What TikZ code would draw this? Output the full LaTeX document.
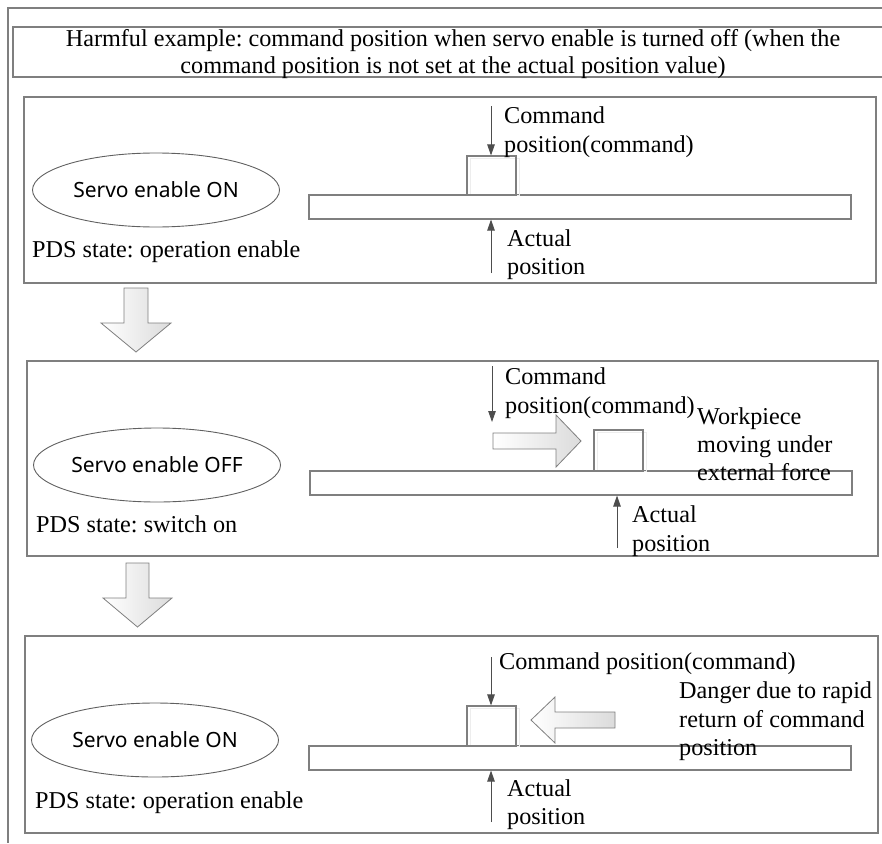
\documentclass[tikz,border=0pt]{standalone}
\usepackage{fontspec}
\setmainfont{Liberation Serif}
\newfontfamily\elfont{Noto Sans}
\usetikzlibrary{arrows.meta,fit,shapes.geometric}
\definecolor{boxgray}{HTML}{7F7F7F}
\definecolor{ellgray}{HTML}{606060}
\definecolor{arrgray}{HTML}{4D4D4D}
\frenchspacing
\tikzset{
  frameline/.style={draw=boxgray,line width=1.1pt},
  rectbox/.style={draw=boxgray,line width=1.1pt,inner sep=0pt},
  ghostbox/.style={draw=gray!14,line width=0.9pt},
  stateell/.style={draw=ellgray,line width=0.9pt,ellipse,minimum width=247pt,minimum height=74pt,inner sep=0pt,font=\elfont\fontsize{21}{25}\selectfont},
  lbl/.style={anchor=base west,inner sep=0pt,font=\fontsize{24.2}{29}\selectfont},
  ttl/.style={anchor=base,inner sep=0pt,font=\fontsize{24.2}{29}\selectfont},
  thinarrow/.style={draw=arrgray,line width=0.9pt,-{Triangle[length=11pt,width=7.5pt]}},
  fatarrow/.style={draw=boxgray,line width=0.8pt,left color=white,right color=gray!28},
}
\begin{document}
\begin{tikzpicture}[x=1pt,y=-1pt]
\useasboundingbox (0,0) rectangle (882,843);
% outer frame
\draw[frameline] (882,8) -- (8,8) -- (8,843);
% title box
\draw[frameline] (882,27) -- (13,27) -- (13,77) -- (882,77);
\node[ttl] (t1) at (453,46) {Harmful example: command position when servo enable is turned off (when the};
\node[ttl] (t2) at (453,73.5) {command position is not set at the actual position value)};

% ---------- panel 1
\node[rectbox,fit={(24,97) (876,283)}] (p1) {};
\node[stateell] (e1) at (156,190) {Servo enable ON};
\node[lbl] (s1) at (32,257) {PDS state: operation enable};
\node[rectbox,fit={(309,195) (851,219)}] (bar1) {};
\draw[ghostbox] (470,158) rectangle (519,195);
\node[rectbox,fit={(467,156) (516,195)}] (blk1) {};
\coordinate (c1) at (491,106);
\draw[thinarrow] (c1) -- (c1 |- blk1.north);
\node[lbl] (cl1a) at (504,123) {Command};
\node[lbl] (cl1b) at (504,152) {position(command)};
\coordinate (a1) at (491,273);
\draw[thinarrow] (a1) -- (a1 |- bar1.south);
\node[lbl] (al1a) at (507,246) {Actual};
\node[lbl] (al1b) at (507,274) {position};

% down arrow 1
\shade[fatarrow] (124,288) -- (148,288) -- (148,323) -- (171,323) -- (136,352) -- (101,323) -- (124,323) -- cycle;

% ---------- panel 2
\node[rectbox,fit={(27,361) (878,556)}] (p2) {};
\node[stateell] (e2) at (157,465) {Servo enable OFF};
\node[lbl] (s2) at (36,532) {PDS state: switch on};
\node[rectbox,fit={(310,471) (852,495)}] (bar2) {};
\draw[ghostbox] (597,432) rectangle (646,471);
\node[rectbox,fit={(594,430) (643,471)}] (blk2) {};
\coordinate (c2s) at (492,366);
\coordinate (c2e) at (492,422);
\draw[thinarrow] (c2s) -- (c2e);
\node[lbl] (cl2a) at (505,384) {Command};
\node[lbl] (cl2b) at (505,413) {position(command)};
\shade[fatarrow] (493,433) -- (556,433) -- (556,415) -- (581,441) -- (556,467) -- (556,449) -- (493,449) -- cycle;
\node[lbl] (w1) at (697,424) {Workpiece};
\node[lbl] (w2) at (697,452) {moving under};
\node[lbl] (w3) at (697,480) {external force};
\coordinate (a2) at (617,548);
\draw[thinarrow] (a2) -- (a2 |- bar2.south);
\node[lbl] (al2a) at (632,522) {Actual};
\node[lbl] (al2b) at (632,551) {position};

% down arrow 2
\shade[fatarrow] (126,563) -- (149,563) -- (149,598) -- (172,598) -- (137.5,627) -- (103,598) -- (126,598) -- cycle;

% ---------- panel 3
\node[rectbox,fit={(25,636) (878,833)}] (p3) {};
\node[stateell] (e3) at (155,740) {Servo enable ON};
\node[lbl] (s3) at (35,808) {PDS state: operation enable};
\node[rectbox,fit={(309,746) (851,770)}] (bar3) {};
\draw[ghostbox] (470,708) rectangle (519,746);
\node[rectbox,fit={(467,706) (516,746)}] (blk3) {};
\coordinate (c3) at (491,657);
\draw[thinarrow] (c3) -- (c3 |- blk3.north);
\node[lbl] (cl3) at (499,669) {Command position(command)};
\shade[fatarrow] (615,712) -- (555,712) -- (555,697) -- (531,720) -- (555,743) -- (555,728) -- (615,728) -- cycle;
\node[lbl] (d1) at (679,698) {Danger due to rapid};
\node[lbl] (d2) at (679,727) {return of command};
\node[lbl] (d3) at (679,755) {position};
\coordinate (a3) at (491,822);
\draw[thinarrow] (a3) -- (a3 |- bar3.south);
\node[lbl] (al3a) at (507,796) {Actual};
\node[lbl] (al3b) at (507,824) {position};
\end{tikzpicture}
\end{document}
